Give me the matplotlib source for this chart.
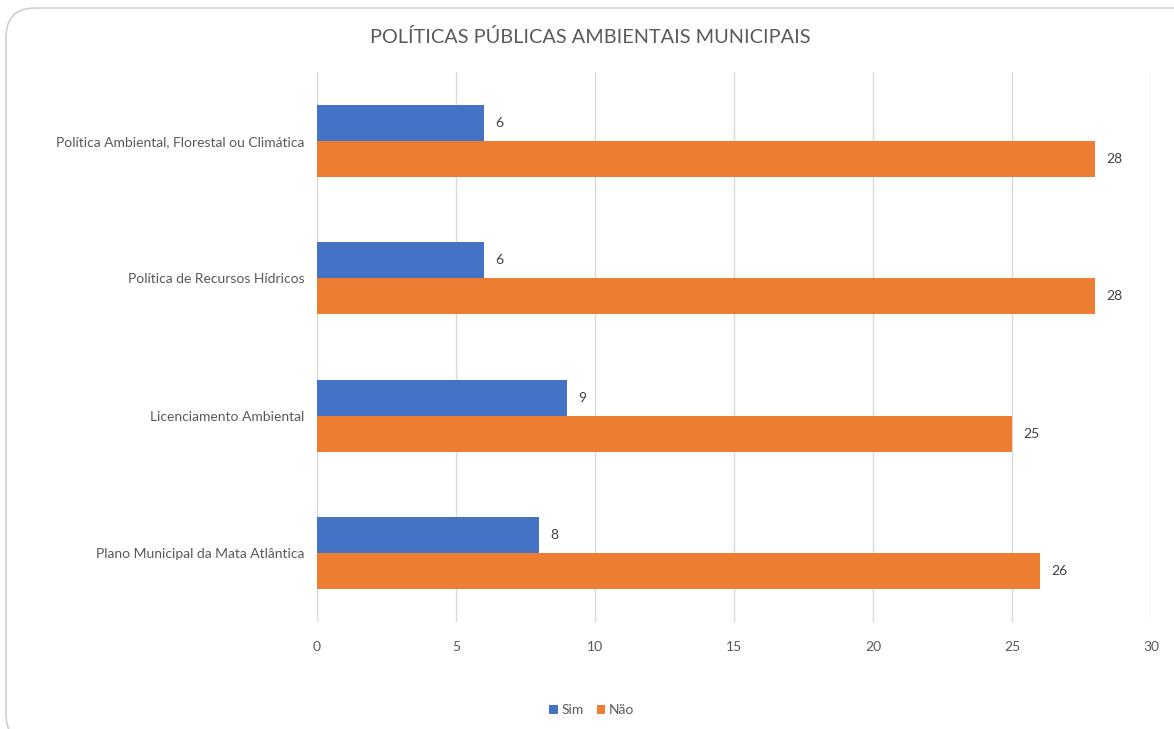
import numpy as np
import matplotlib.pyplot as plt
from matplotlib.patches import FancyBboxPatch

plt.rcParams['font.family'] = ['Lato', 'DejaVu Sans']

categories = ['Plano Municipal da Mata Atlântica',
              'Licenciamento Ambiental',
              'Política de Recursos Hídricos',
              'Política Ambiental, Florestal ou Climática']
sim = [8, 9, 6, 6]
nao = [26, 25, 28, 28]

blue = '#4472C4'
orange = '#ED7D31'
txt = '#595959'

fig = plt.figure(figsize=(11.74, 7.29), dpi=100)
ax = fig.add_axes([317 / 1174, 1 - 622 / 729, (1151 - 317) / 1174, (622 - 72) / 729])

border = FancyBboxPatch((6 / 1174, -0.02), 1.02, 1 - 8 / 729 + 0.02,
                        boxstyle='round,pad=0,rounding_size=0.025',
                        transform=fig.transFigure, facecolor='white',
                        edgecolor='#D0D0D0', linewidth=1.2, zorder=-10,
                        mutation_aspect=1174 / 729)
fig.patches.append(border)

y = np.arange(len(categories))
h = 0.262
b1 = ax.barh(y + h / 2, sim, height=h, color=blue, label='Sim', zorder=3)
b2 = ax.barh(y - h / 2, nao, height=h, color=orange, label='Não', zorder=3)
for bars in (b1, b2):
    ax.bar_label(bars, padding=8, fontsize=10, color='#404040')

ax.set_xlim(0, 30)
ax.set_ylim(-0.5, 3.5)
ax.set_xticks(range(0, 31, 5))
ax.set_yticks(y)
ax.set_yticklabels(categories)
ax.grid(axis='x', color='#D9D9D9', linewidth=1, zorder=0)
ax.set_axisbelow(True)
for s in ax.spines.values():
    s.set_visible(False)
ax.tick_params(length=0, colors=txt, labelsize=10)
ax.tick_params(axis='y', pad=9)
ax.tick_params(axis='x', pad=14)
ax.set_facecolor('none')

fig.text(590 / 1174, 1 - 37 / 729, 'POLÍTICAS PÚBLICAS AMBIENTAIS MUNICIPAIS',
         ha='center', va='center', fontsize=14.3, color=txt)

fig.legend(loc='center', bbox_to_anchor=(592 / 1174, 1 - 710 / 729), ncol=2,
           frameon=False, fontsize=10, handlelength=0.6, handleheight=0.6,
           handletextpad=0.3, columnspacing=0.9, labelcolor=txt)

fig.savefig('out.png', dpi=100)
